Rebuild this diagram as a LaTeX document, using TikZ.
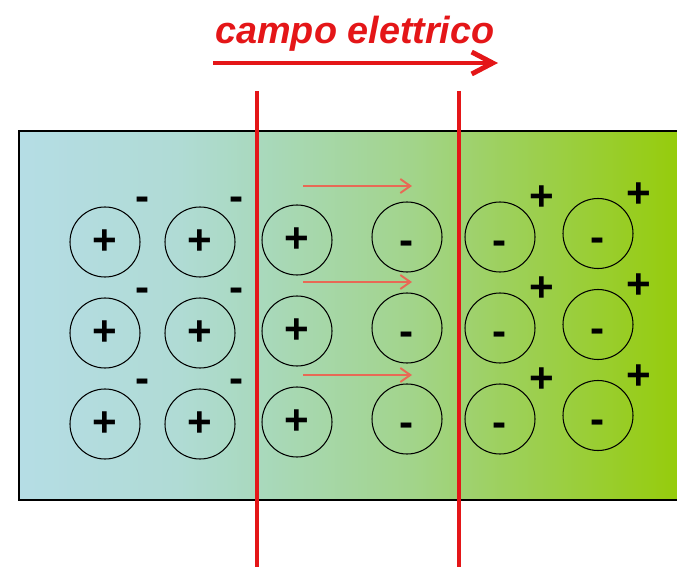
\documentclass[tikz,border=0pt]{standalone}
\usepackage{fontspec}
\setmainfont{Liberation Sans}
\usetikzlibrary{arrows.meta}
\definecolor{fieldred}{RGB}{228, 22, 24}
\definecolor{driftred}{RGB}{232, 105, 85}
\definecolor{bandblue}{RGB}{181, 221, 229}
\definecolor{bandteal}{RGB}{176, 219, 213}
\definecolor{bandmint}{RGB}{169, 217, 190}
\definecolor{bandgreen}{RGB}{162, 212, 138}
\definecolor{bandleaf}{RGB}{157, 208, 92}
\definecolor{bandlime}{RGB}{150, 204, 12}
\pgfdeclarehorizontalshading{junction}{100bp}{color(0bp)=(bandblue); color(25bp)=(bandblue);
  color(37bp)=(bandteal); color(43bp)=(bandmint); color(55bp)=(bandgreen);
  color(62bp)=(bandleaf); color(75bp)=(bandlime); color(100bp)=(bandlime)}

\begin{document}
\begin{tikzpicture}[
    ion/.style={circle, draw, line width=0.6pt, minimum size=1.4cm, inner sep=0pt,
      font=\fontsize{24}{24}\selectfont\bfseries},
    charge/.style={inner sep=0pt, font=\fontsize{24}{24}\selectfont\bfseries},
    drift/.style={driftred, line width=1.1pt, -{Straight Barb[length=2mm, width=2.8mm]}},
    field/.style={fieldred, line width=2.8pt, -{Straight Barb[length=4.2mm, width=4.4mm]}}]
    \useasboundingbox (0,0) rectangle (13.54,11.34);

    % crystal with the depletion gradient
    \shade[shading=junction] (0.38,1.34) rectangle (13.54,8.72);
    \draw[line width=1pt] (13.6,1.34) -- (0.38,1.34) -- (0.38,8.72) -- (13.6,8.72);

    % fixed ions
    \foreach \col/\x/\dy in {1/2.1/0, 2/4.0/0, 3/5.94/0.04}
      \foreach \row/\y in {1/6.50, 2/4.68, 3/2.86}
        \node[ion] (ion\col\row) at (\x,\y+\dy) {+};
    \foreach \col/\x/\dy in {4/8.14/0.10, 5/10.0/0.10, 6/11.96/0.17}
      \foreach \row/\y in {1/6.50, 2/4.68, 3/2.86}
        \node[ion] (ion\col\row) at (\x,\y+\dy) {\vphantom{+}\smash{\raisebox{-3pt}{-}}};

    % free charges
    \foreach \col/\x in {1/2.86, 2/4.74}
      \foreach \row/\y in {1/7.38, 2/5.56, 3/3.74}
        \node[charge] (free\col\row) at (\x,\y) {\vphantom{+}-};
    \foreach \col/\x/\dy in {5/10.84/0.04, 6/12.78/0.09}
      \foreach \row/\y in {1/7.34, 2/5.52, 3/3.70}
        \node[charge] (free\col\row) at (\x,\y+\dy) {+};

    % drift arrows
    \foreach \k/\y in {1/7.62, 2/5.70, 3/3.84} {
      \coordinate (drifta\k) at (6.06,\y);
      \coordinate (driftb\k) at (8.24,\y);
      \draw[drift] (drifta\k) -- (driftb\k);
    }

    % boundaries of the depletion region
    \draw[fieldred, line width=2.3pt] (5.14,9.52) -- (5.14,0);
    \draw[fieldred, line width=2.3pt] (9.18,9.52) -- (9.18,0);

    % field
    \coordinate (fieldtail) at (4.26,10.08);
    \coordinate (fieldtip) at (9.96,10.08);
    \draw[field] (fieldtail) -- (fieldtip);
    \node[anchor=base, text=fieldred, font=\fontsize{21.5}{25}\selectfont\bfseries\itshape]
      (fieldlabel) at (7.1,10.47) {campo elettrico};
\end{tikzpicture}
\end{document}
